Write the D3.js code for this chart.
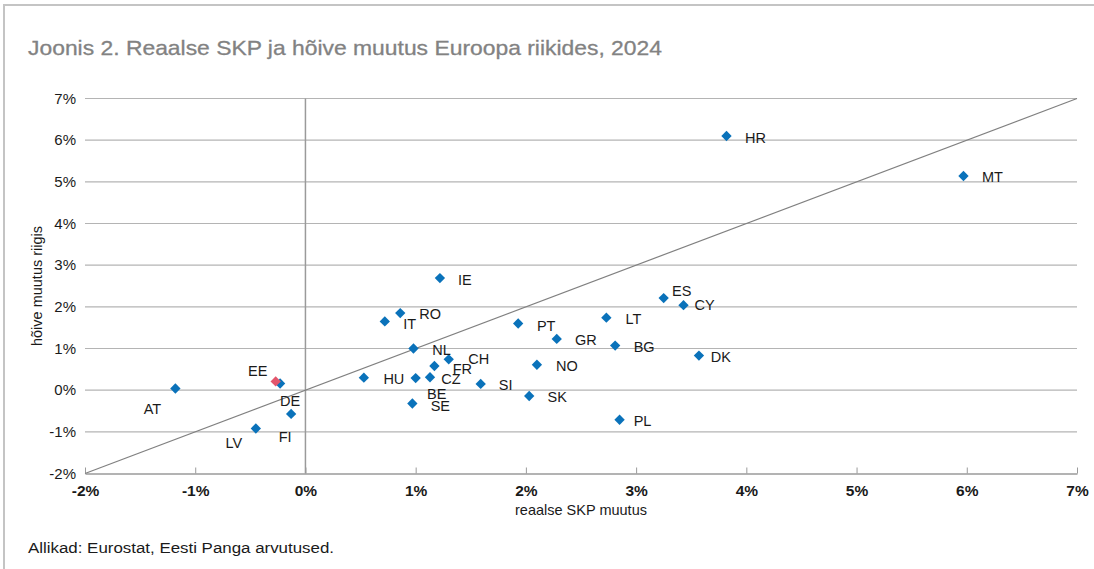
<!DOCTYPE html>
<meta charset="utf-8">
<title>Joonis 2</title>
<style>
body { margin: 0; background: #fff; }
text { font-family: "Liberation Sans", Arial, sans-serif; }
.grid line { stroke: #b4b4b4; stroke-width: 1.2; }
.lbl { font-size: 14.5px; fill: #1a1a1a; }
</style>
<body>
<script src="https://cdn.jsdelivr.net/npm/d3@7"></script>
<script>

// country codes, real GDP change (%), employment change (%)
var countries = ["AT","DE","FI","LV","IE","RO","IT","PT","LT","GR","BG","NL","CH","FR","NO","HU","BE","CZ","SE","SI","SK","PL","HR","MT","ES","CY","DK","EE"];
var gdp = [-1.18,-0.23,-0.13,-0.45,1.22,0.86,0.72,1.93,2.73,2.28,2.81,0.98,1.30,1.17,2.10,0.53,1.00,1.13,0.97,1.59,2.03,2.85,3.82,5.97,3.25,3.43,3.57,-0.27];
var emp = [0.04,0.16,-0.57,-0.92,2.69,1.85,1.65,1.60,1.74,1.23,1.07,1.00,0.74,0.58,0.61,0.30,0.29,0.31,-0.32,0.15,-0.14,-0.71,6.10,5.14,2.21,2.04,0.83,0.21];
var highlight = "EE";

var xTicks = [-2,-1,0,1,2,3,4,5,6,7];
var yTicks = [-2,-1,0,1,2,3,4,5,6,7];

// where each label sits relative to its marker (px)
var labelOffset = {
  AT:[-23,20], EE:[-18,-11], DE:[10,17], FI:[-6,23], LV:[-22,14],
  IE:[25,2], RO:[30,1], IT:[25,2], PT:[28,2], LT:[27,1], GR:[29,1],
  BG:[29,1], NL:[28,1], CH:[30,-1], FR:[28,3], NO:[30,1], HU:[30,1],
  CZ:[21,2], BE:[21,16], SE:[28,2], SI:[25,1], SK:[28,1], PL:[23,1],
  HR:[29,2], MT:[29,1], ES:[18,-7], CY:[21,0], DK:[22,1]
};

var W = 1094, H = 569;
var svg = d3.select("body").append("svg")
    .attr("width", W)
    .attr("height", H);

// outer frame (top and left only)
svg.append("path")
    .attr("d", "M4,569V5H1094")
    .attr("fill", "none")
    .attr("stroke", "#c4c4c4")
    .attr("stroke-width", 2);

svg.append("text")
    .attr("x", 28).attr("y", 55)
    .attr("textLength", 634)
    .attr("lengthAdjust", "spacingAndGlyphs")
    .style("font-size", "21px")
    .style("fill", "#828282")
    .style("stroke", "#828282")
    .style("stroke-width", 0.3)
    .text("Joonis 2. Reaalse SKP ja hõive muutus Euroopa riikides, 2024");

var x = d3.scaleLinear().domain([-2, 7]).range([85, 1077]);
var y = d3.scaleLinear().domain([-2, 7]).range([473.5, 98.5]);

// horizontal gridlines
svg.append("g").attr("class", "grid")
  .selectAll("line")
  .data(yTicks.filter(function(d) { return d > -2; }))
  .enter().append("line")
    .attr("x1", x(-2)).attr("x2", x(7))
    .attr("y1", function(d) { return y(d); })
    .attr("y2", function(d) { return y(d); });

// vertical zero line
svg.append("line")
    .attr("x1", x(0)).attr("x2", x(0))
    .attr("y1", y(7)).attr("y2", y(-2))
    .attr("stroke", "#9a9a9a")
    .attr("stroke-width", 1.5);

// x axis, ticks pointing up
var xAxis = svg.append("g")
    .attr("transform", "translate(0," + y(-2) + ")")
    .call(d3.axisBottom(x).tickValues(xTicks).tickSizeInner(-6).tickSizeOuter(0)
      .tickFormat(function(d) { return d + "%"; }));
xAxis.select(".domain").attr("stroke", "#9a9a9a").attr("stroke-width", 1.5);
xAxis.selectAll(".tick line").attr("stroke", "#9a9a9a");
xAxis.selectAll(".tick text")
    .attr("y", 11)
    .style("font-size", "15.5px")
    .style("font-weight", "bold")
    .style("font-family", "Liberation Sans, Arial, sans-serif")
    .style("fill", "#1a1a1a");

// y axis labels only
var yAxis = svg.append("g")
    .attr("transform", "translate(" + x(-2) + ",0)")
    .call(d3.axisLeft(y).tickValues(yTicks).tickSize(0).tickPadding(9)
      .tickFormat(function(d) { return d + "%"; }));
yAxis.select(".domain").remove();
yAxis.selectAll(".tick text")
    .style("font-size", "15px")
    .style("font-family", "Liberation Sans, Arial, sans-serif")
    .style("fill", "#1a1a1a");

// 45 degree line
svg.append("line")
    .attr("x1", x(-2)).attr("y1", y(-2))
    .attr("x2", x(7)).attr("y2", y(7))
    .attr("stroke", "#808080")
    .attr("stroke-width", 1.2);

svg.append("text")
    .attr("transform", "translate(42," + y(2.5) + ") rotate(-90)")
    .attr("text-anchor", "middle")
    .style("font-size", "14.5px")
    .style("fill", "#1a1a1a")
    .text("hõive muutus riigis");

svg.append("text")
    .attr("x", x(2.5)).attr("y", 515)
    .attr("text-anchor", "middle")
    .style("font-size", "14.5px")
    .style("fill", "#1a1a1a")
    .text("reaalse SKP muutus");

svg.append("text")
    .attr("x", 28).attr("y", 553)
    .attr("textLength", 306)
    .attr("lengthAdjust", "spacingAndGlyphs")
    .style("font-size", "15.5px")
    .style("fill", "#1a1a1a")
    .text("Allikad: Eurostat, Eesti Panga arvutused.");

var pts = countries.map(function(c, i) {
  return { name: c, gx: gdp[i], ey: emp[i] };
});
// blue markers first, highlighted one on top
pts.sort(function(a, b) { return (a.name === highlight) - (b.name === highlight); });

var diamond = d3.symbol().type(d3.symbolDiamond2).size(68);

svg.append("g").selectAll("path")
    .data(pts)
    .enter().append("path")
    .attr("d", diamond)
    .attr("transform", function(d) {
      return "translate(" + x(d.gx) + "," + y(d.ey) + ")"; })
    .attr("fill", function(d) { return d.name === highlight ? "#e2566c" : "#0a72ba"; });

svg.append("g").selectAll("text")
    .data(pts)
    .enter().append("text")
    .attr("class", "lbl")
    .attr("text-anchor", "middle")
    .attr("dy", "0.36em")
    .attr("x", function(d) { return x(d.gx) + labelOffset[d.name][0]; })
    .attr("y", function(d) { return y(d.ey) + labelOffset[d.name][1]; })
    .text(function(d) { return d.name; });

</script>
</body>
